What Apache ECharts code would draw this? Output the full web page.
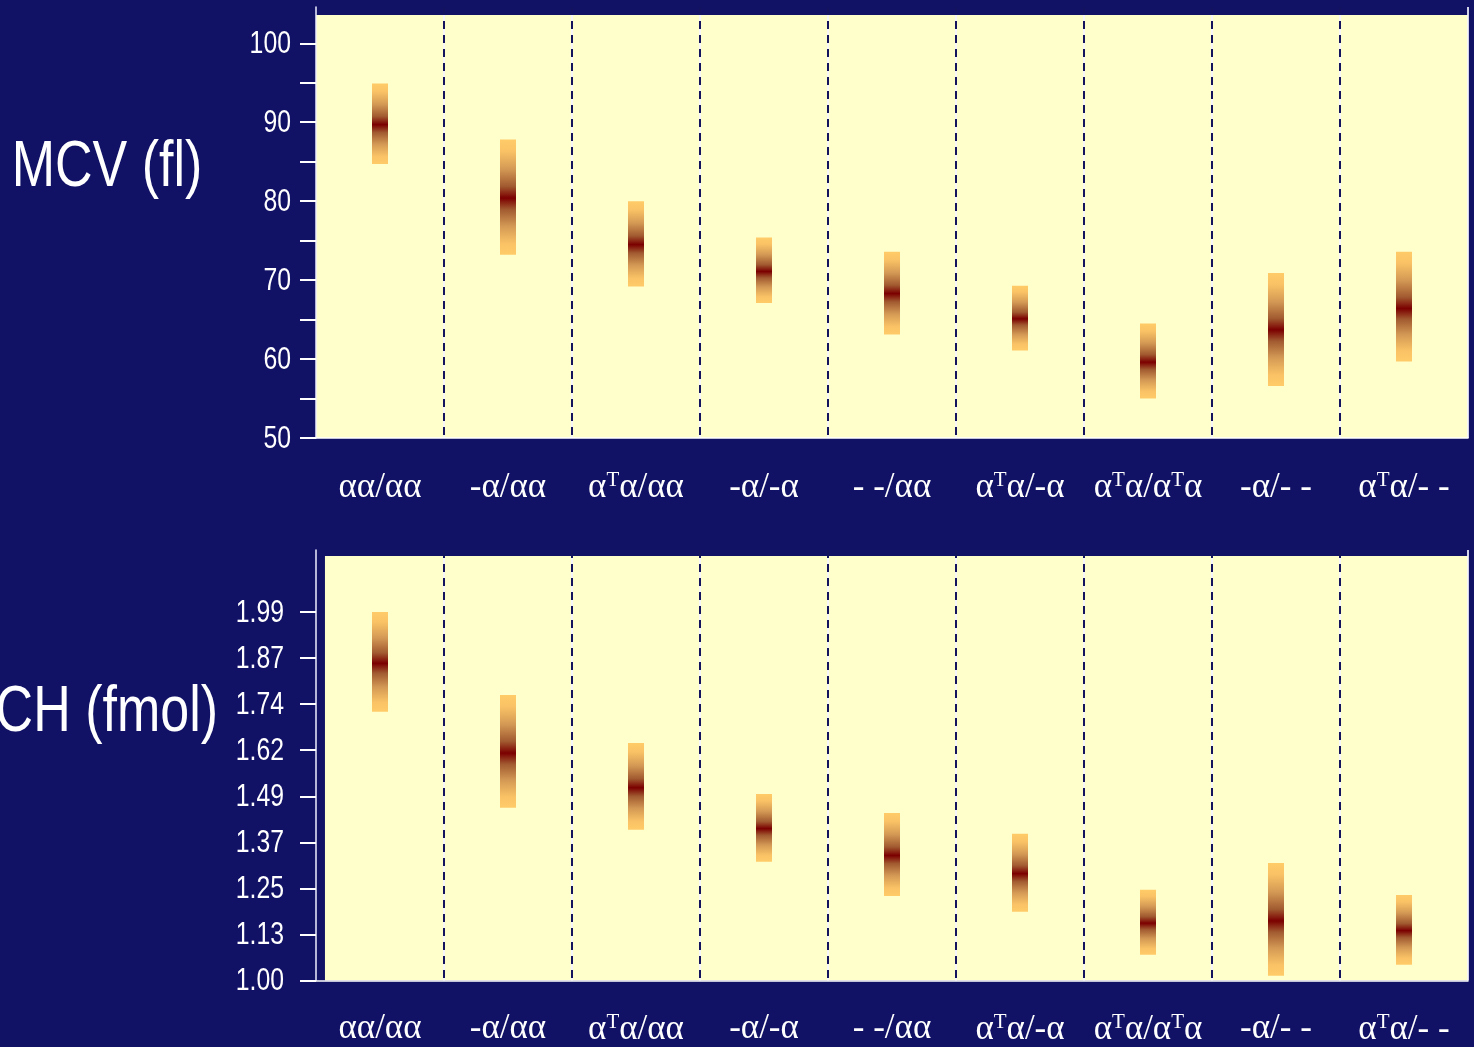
<!DOCTYPE html>
<html>
<head>
<meta charset="utf-8">
<script src="https://cdn.jsdelivr.net/npm/echarts@6/dist/echarts.min.js"></script>
<style>
html,body{margin:0;padding:0;background:#111166;}
#chart{width:1474px;height:1047px;}
</style>
</head>
<body>
<div id="chart"></div>
<script>
// ---- data ----
const categories = ['αα/αα', '-α/αα', 'αTα/αα', '-α/-α', '- -/αα', 'αTα/-α', 'αTα/αTα', '-α/- -', 'αTα/- -'];

const mcvLow  = [84.7, 73.2, 69.2, 67.1, 63.1, 61.1, 55.0, 56.6, 59.7];
const mcvHigh = [94.9, 87.8, 80.0, 75.4, 73.6, 69.3, 64.5, 70.9, 73.6];
const mcvMid  = [89.7, 80.4, 74.5, 71.1, 68.3, 65.1, 59.6, 63.7, 66.4];

const mchLow  = [1.722, 1.464, 1.405, 1.319, 1.227, 1.185, 1.069, 1.013, 1.042];
const mchHigh = [1.990, 1.767, 1.638, 1.501, 1.450, 1.394, 1.244, 1.316, 1.230];
const mchMid  = [1.852, 1.611, 1.518, 1.408, 1.336, 1.287, 1.154, 1.160, 1.134];

const mcvTickLabels = [50, 60, 70, 80, 90, 100];
const mcvTicks = [50, 55, 60, 65, 70, 75, 80, 85, 90, 95, 100];
const mchTickLabels = ['1.00', '1.13', '1.25', '1.37', '1.49', '1.62', '1.74', '1.87', '1.99'];

const titleTop = 'MCV (fl)';
const titleBottom = 'MCH (fmol)';

// ---- derived ----
const mchMin = parseFloat(mchTickLabels[0]);
const mchStep = (parseFloat(mchTickLabels[mchTickLabels.length - 1]) - mchMin) / (mchTickLabels.length - 1);
const mchTickValues = mchTickLabels.map((_, i) => mchMin + i * mchStep);
const boundaries = categories.map((c, i) => ({xAxis: i + 1}));

const NAVY = '#111166';
const YELLOW = '#FFFFCC';
const SANS = '"Liberation Sans", Arial, sans-serif';
const SERIF = '"Liberation Serif", "Times New Roman", "DejaVu Serif", serif';

function toRows(lo, hi, mid) {
  return categories.map((c, i) => [i, lo[i], hi[i], mid[i]]);
}

const END = '#FFCB68', C1 = '#FAC265', C2 = '#D49A55', C3 = '#A15A30', DARK = '#7B0000';
function renderBar(params, api) {
  const x = api.value(0), lo = api.value(1), hi = api.value(2), mid = api.value(3);
  const pTop = api.coord([x, hi]);
  const pBot = api.coord([x, lo]);
  const pMid = api.coord([x, mid]);
  const w = api.size([1, 0])[0] * 0.125;
  const h = pBot[1] - pTop[1];
  const d = Math.min(0.98, Math.max(0.02, (pMid[1] - pTop[1]) / h));
  const e = 1 - d;
  const grad = new echarts.graphic.LinearGradient(0, 0, 0, 1, [
    {offset: 0, color: END},
    {offset: d * 0.2, color: C1},
    {offset: d * 0.5, color: C2},
    {offset: d * 0.8, color: C3},
    {offset: d, color: DARK},
    {offset: d + e * 0.2, color: C3},
    {offset: d + e * 0.5, color: C2},
    {offset: d + e * 0.8, color: C1},
    {offset: 1, color: END}
  ]);
  return {
    type: 'rect',
    shape: {x: pTop[0] - w / 2, y: pTop[1], width: w, height: h},
    style: {fill: grad}
  };
}

function catAxis(gridIndex, margin) {
  return {
    type: 'category', gridIndex: gridIndex, data: categories, z: 2,
    boundaryGap: true,
    axisLine: {show: true, lineStyle: {color: '#ffffff', width: 1.5}},
    axisTick: {show: false},
    axisLabel: {
      interval: 0, margin: margin, color: '#ffffff',
      fontFamily: SERIF, fontSize: 35,
      formatter: v => v.replace(/T/g, '{t|T}'),
      rich: {t: {fontFamily: SERIF, fontSize: 21, color: '#ffffff', verticalAlign: 'top', padding: [0, 0, 15, 0]}}
    },
    splitLine: {show: true, interval: 0, showMinLine: false, showMaxLine: false,
      lineStyle: {color: '#14145E', width: 2, type: [8, 6]}}
  };
}
function helperAxis(gridIndex) {
  return {
    type: 'value', gridIndex: gridIndex, min: 0, max: categories.length, interval: 1, show: false
  };
}
function valAxis(gridIndex, min, max, ticks) {
  return {
    type: 'value', gridIndex: gridIndex, min: min, max: max, z: 2,
    axisLine: {show: true, lineStyle: {color: '#EEEEFF', width: 1.5}},
    axisTick: {show: true, length: 16, customValues: ticks, lineStyle: {color: '#ffffff', width: 2}},
    axisLabel: {show: false},
    splitLine: {show: false}
  };
}
function background(xi, yi, x0, y0, y1) {
  return {
    type: 'line', xAxisIndex: xi, yAxisIndex: yi, data: [[0, y0]], showSymbol: false, silent: true, z: -1,
    lineStyle: {opacity: 0},
    markArea: {z: -1, silent: true, itemStyle: {color: YELLOW, opacity: 1},
      data: [[{coord: [x0, y0]}, {coord: [categories.length, y1]}]]},
    markLine: {z: 1, silent: true, symbol: 'none', label: {show: false},
      lineStyle: {color: '#F4F4FF', width: 2, type: 'solid', opacity: 0.85},
      data: boundaries}
  };
}

const chart = echarts.init(document.getElementById('chart'), null, {renderer: 'canvas'});
chart.setOption({
  backgroundColor: NAVY,
  animation: false,
  grid: [
    {left: 316, right: 6, top: 7, height: 431},
    {left: 316, right: 6, top: 550, height: 431}
  ],
  xAxis: [catAxis(0, 32), catAxis(1, 31), helperAxis(0), helperAxis(1)],
  yAxis: [
    valAxis(0, 50, 104.6, mcvTicks),
    valAxis(1, 1, 2.1566, mchTickValues)
  ],
  series: [
    background(2, 0, 0, 50, 103.58),
    background(3, 1, 0.07, 1, 2.1404),
    {
      type: 'custom', xAxisIndex: 0, yAxisIndex: 0, z: 3,
      renderItem: renderBar, encode: {x: 0, y: [1, 2]},
      data: toRows(mcvLow, mcvHigh, mcvMid)
    },
    {
      type: 'custom', xAxisIndex: 1, yAxisIndex: 1, z: 3,
      renderItem: renderBar, encode: {x: 0, y: [1, 2]},
      data: toRows(mchLow, mchHigh, mchMid)
    }
  ]
});

// Narrow (horizontally condensed) tick labels and axis titles, placed through the axis scales
function tickLabel(text, yAxisIndex, value, margin) {
  const ax = chart.convertToPixel({xAxisIndex: yAxisIndex === 0 ? 2 : 3}, 0);
  const y = chart.convertToPixel({yAxisIndex: yAxisIndex}, value);
  return {type: 'text', x: ax - margin, y: y + 1, scaleX: 0.8, silent: true,
    style: {text: text, fill: '#ffffff', fontFamily: SANS, fontSize: 31, align: 'right', verticalAlign: 'middle'}};
}
const graphics = [];
mcvTickLabels.forEach(v => graphics.push(tickLabel(String(v), 0, v, 25)));
mchTickLabels.forEach((t, i) => graphics.push(tickLabel(t, 1, mchTickValues[i], 32)));
graphics.push({type: 'text', x: 107, y: 168, scaleX: 0.8, silent: true,
  style: {text: titleTop, fill: '#ffffff', fontFamily: SANS, fontSize: 65, align: 'center', verticalAlign: 'middle'}});
graphics.push({type: 'text', x: 218, y: 713, scaleX: 0.8, silent: true,
  style: {text: titleBottom, fill: '#ffffff', fontFamily: SANS, fontSize: 65, align: 'right', verticalAlign: 'middle'}});
chart.setOption({graphic: graphics});
</script>
</body>
</html>
